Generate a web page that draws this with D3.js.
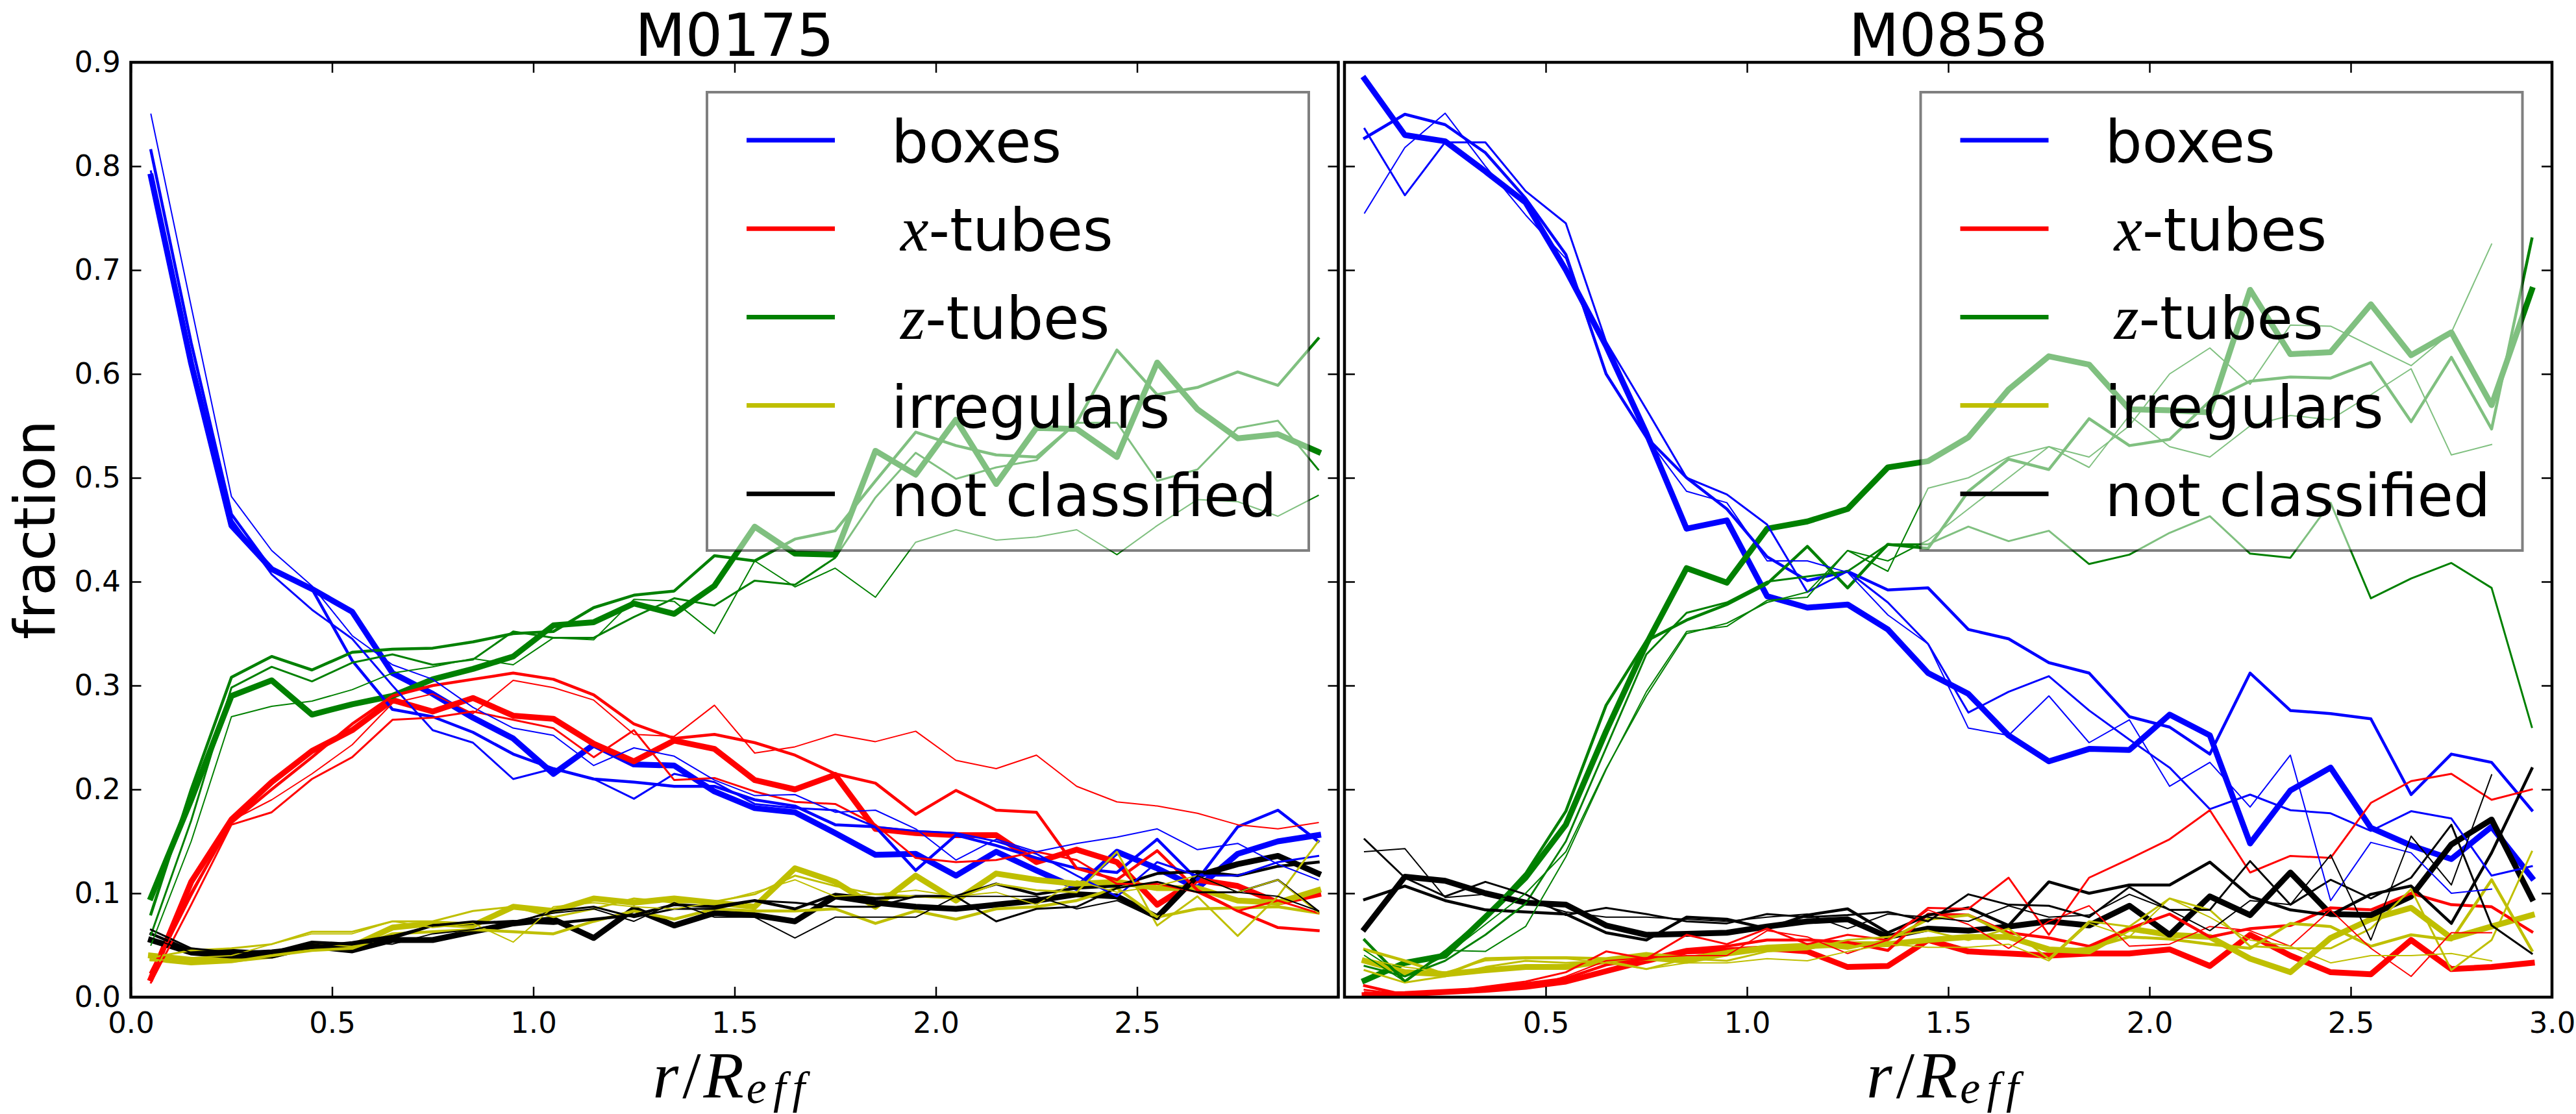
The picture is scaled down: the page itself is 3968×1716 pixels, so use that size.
<!DOCTYPE html>
<html>
<head>
<meta charset="utf-8">
<script src="https://cdn.jsdelivr.net/npm/d3@7"></script>
<style>
  html, body { margin: 0; padding: 0; background: #fff; }
  svg { display: block; }
</style>
</head>
<body>
<div id="chart"></div>
<script>
// ---------------- data ----------------
var titles = ["M0175", "M0858"];
var classNames = ["boxes", "x-tubes", "z-tubes", "irregulars", "not classified"];
var classColors = ["#0000ff", "#ff0000", "#008000", "#bfbf00", "#000000"];

// radial bins r / R_eff
var radii = [0.05, 0.15, 0.25, 0.35, 0.45, 0.55, 0.65, 0.75, 0.85, 0.95,
             1.05, 1.15, 1.25, 1.35, 1.45, 1.55, 1.65, 1.75, 1.85, 1.95,
             2.05, 2.15, 2.25, 2.35, 2.45, 2.55, 2.65, 2.75, 2.85, 2.95];

var xTickValues = [0.0, 0.5, 1.0, 1.5, 2.0, 2.5, 3.0];
var xTickLabelsM0175 = ["0.0", "0.5", "1.0", "1.5", "2.0", "2.5", ""];
var xTickLabelsM0858 = ["", "0.5", "1.0", "1.5", "2.0", "2.5", "3.0"];
var yTickValues = [0.0, 0.1, 0.2, 0.3, 0.4, 0.5, 0.6, 0.7, 0.8, 0.9];
var yTickLabels = ["0.0", "0.1", "0.2", "0.3", "0.4", "0.5", "0.6", "0.7", "0.8", "0.9"];

// M0175 : each class = several runs (first one is the thick one)
var m0175Boxes = [
  [0.790,0.610,0.454,0.412,0.393,0.371,0.312,0.292,0.269,0.249,0.215,0.243,0.224,0.223,0.198,0.182,0.178,0.158,0.137,0.138,0.117,0.140,0.122,0.105,0.140,0.124,0.105,0.138,0.150,0.156],
  [0.815,0.630,0.465,0.412,0.393,0.324,0.277,0.270,0.255,0.234,0.220,0.210,0.207,0.203,0.203,0.190,0.184,0.166,0.164,0.122,0.156,0.146,0.134,0.124,0.120,0.152,0.113,0.164,0.180,0.150],
  [0.795,0.610,0.460,0.407,0.373,0.345,0.300,0.257,0.245,0.210,0.220,0.210,0.191,0.215,0.207,0.186,0.182,0.180,0.164,0.160,0.158,0.150,0.138,0.117,0.097,0.130,0.117,0.117,0.130,0.136],
  [0.850,0.665,0.482,0.430,0.396,0.348,0.320,0.306,0.279,0.259,0.252,0.223,0.240,0.232,0.209,0.194,0.195,0.178,0.180,0.162,0.132,0.152,0.140,0.148,0.154,0.162,0.142,0.148,0.128,0.113]
];
var m0175XTubes = [
  [0.018,0.111,0.171,0.207,0.237,0.257,0.286,0.275,0.288,0.271,0.268,0.244,0.227,0.247,0.239,0.209,0.200,0.214,0.162,0.158,0.156,0.156,0.130,0.142,0.130,0.089,0.113,0.107,0.091,0.099],
  [0.024,0.100,0.168,0.200,0.231,0.263,0.290,0.300,0.306,0.312,0.306,0.291,0.263,0.249,0.253,0.245,0.233,0.215,0.206,0.176,0.199,0.180,0.178,0.124,0.113,0.141,0.103,0.083,0.067,0.064],
  [0.014,0.089,0.166,0.178,0.210,0.231,0.267,0.269,0.275,0.267,0.259,0.231,0.257,0.209,0.211,0.198,0.188,0.186,0.166,0.134,0.130,0.132,0.140,0.132,0.109,0.109,0.101,0.083,0.093,0.081],
  [0.020,0.097,0.170,0.190,0.215,0.243,0.283,0.292,0.273,0.305,0.298,0.286,0.253,0.251,0.281,0.235,0.241,0.253,0.246,0.256,0.228,0.220,0.233,0.203,0.188,0.184,0.177,0.166,0.162,0.168]
];
var m0175ZTubes = [
  [0.096,0.190,0.290,0.305,0.272,0.282,0.290,0.306,0.316,0.328,0.358,0.361,0.379,0.369,0.396,0.453,0.427,0.426,0.526,0.503,0.556,0.494,0.548,0.547,0.520,0.611,0.566,0.538,0.542,0.525],
  [0.080,0.200,0.308,0.328,0.315,0.332,0.335,0.336,0.342,0.350,0.352,0.375,0.387,0.391,0.425,0.420,0.441,0.449,0.497,0.544,0.531,0.522,0.520,0.553,0.623,0.580,0.587,0.602,0.589,0.634],
  [0.060,0.170,0.298,0.318,0.304,0.322,0.330,0.320,0.325,0.352,0.346,0.346,0.366,0.384,0.377,0.401,0.397,0.423,0.481,0.524,0.499,0.510,0.517,0.553,0.553,0.497,0.508,0.548,0.555,0.508],
  [0.050,0.150,0.270,0.280,0.285,0.296,0.312,0.318,0.326,0.320,0.346,0.344,0.383,0.381,0.350,0.420,0.395,0.413,0.385,0.438,0.450,0.440,0.443,0.450,0.426,0.454,0.479,0.477,0.463,0.483]
];
var m0175Irregulars = [
  [0.040,0.036,0.036,0.040,0.049,0.049,0.067,0.071,0.069,0.087,0.083,0.095,0.091,0.095,0.091,0.087,0.124,0.111,0.087,0.117,0.093,0.119,0.113,0.109,0.111,0.105,0.105,0.093,0.091,0.103],
  [0.036,0.032,0.034,0.040,0.045,0.047,0.061,0.063,0.065,0.063,0.061,0.073,0.083,0.075,0.085,0.083,0.083,0.085,0.071,0.083,0.075,0.085,0.087,0.093,0.105,0.077,0.085,0.086,0.087,0.081],
  [0.038,0.045,0.047,0.051,0.063,0.063,0.073,0.073,0.083,0.087,0.077,0.085,0.095,0.091,0.092,0.099,0.117,0.107,0.099,0.097,0.095,0.109,0.103,0.101,0.140,0.069,0.097,0.059,0.097,0.150],
  [0.035,0.038,0.040,0.051,0.061,0.061,0.073,0.067,0.071,0.053,0.087,0.091,0.087,0.085,0.091,0.101,0.113,0.097,0.099,0.103,0.097,0.101,0.089,0.112,0.101,0.107,0.117,0.101,0.113,0.081]
];
var m0175NotClassified = [
  [0.055,0.043,0.040,0.040,0.049,0.045,0.055,0.055,0.063,0.071,0.075,0.057,0.085,0.069,0.081,0.079,0.073,0.097,0.091,0.087,0.085,0.089,0.093,0.099,0.097,0.077,0.117,0.128,0.136,0.119],
  [0.061,0.045,0.045,0.043,0.053,0.051,0.057,0.069,0.071,0.073,0.071,0.075,0.079,0.089,0.087,0.093,0.085,0.099,0.095,0.097,0.097,0.109,0.099,0.105,0.107,0.119,0.121,0.117,0.126,0.130],
  [0.065,0.047,0.043,0.045,0.049,0.053,0.059,0.069,0.073,0.071,0.083,0.087,0.077,0.085,0.085,0.093,0.091,0.087,0.087,0.097,0.097,0.073,0.085,0.087,0.105,0.111,0.101,0.101,0.113,0.083],
  [0.057,0.043,0.043,0.043,0.047,0.053,0.051,0.061,0.065,0.073,0.081,0.085,0.073,0.091,0.077,0.077,0.057,0.077,0.077,0.077,0.097,0.097,0.097,0.085,0.093,0.075,0.117,0.101,0.097,0.083]
];

// M0858 (last run stops at r = 2.85)
var m0858Boxes = [
  [0.884,0.830,0.824,0.795,0.765,0.700,0.627,0.543,0.451,0.459,0.386,0.375,0.378,0.354,0.312,0.292,0.252,0.227,0.239,0.238,0.272,0.252,0.148,0.199,0.221,0.163,0.146,0.133,0.164,0.115],
  [0.827,0.850,0.840,0.813,0.769,0.715,0.600,0.539,0.500,0.470,0.424,0.401,0.410,0.392,0.394,0.354,0.345,0.322,0.312,0.270,0.260,0.234,0.312,0.276,0.273,0.268,0.195,0.234,0.226,0.180],
  [0.836,0.772,0.823,0.823,0.776,0.745,0.631,0.566,0.500,0.484,0.455,0.390,0.410,0.380,0.340,0.274,0.294,0.309,0.276,0.248,0.221,0.181,0.195,0.180,0.177,0.160,0.179,0.172,0.117,0.126],
  [0.755,0.818,0.851,0.800,0.753,0.711,0.600,0.539,0.487,0.476,0.420,0.420,0.409,0.368,0.340,0.259,0.252,0.290,0.245,0.267,0.203,0.226,0.183,0.233,0.093,0.149,0.139,0.100,0.104,null]
];
var m0858XTubes = [
  [0.002,0.003,0.005,0.007,0.010,0.015,0.025,0.035,0.044,0.045,0.047,0.044,0.029,0.030,0.055,0.044,0.042,0.040,0.042,0.042,0.046,0.030,0.060,0.040,0.024,0.022,0.055,0.027,0.029,0.033],
  [0.011,0.002,0.004,0.009,0.013,0.018,0.031,0.037,0.046,0.049,0.055,0.055,0.053,0.045,0.080,0.079,0.062,0.057,0.049,0.066,0.080,0.058,0.066,0.069,0.086,0.084,0.100,0.089,0.087,0.063],
  [0.007,0.002,0.005,0.010,0.015,0.024,0.044,0.037,0.060,0.051,0.066,0.051,0.060,0.055,0.086,0.085,0.115,0.060,0.115,0.133,0.152,0.180,0.120,0.136,0.134,0.187,0.208,0.215,0.190,0.200],
  [0.005,0.002,0.004,0.008,0.009,0.020,0.035,0.038,0.040,0.040,0.064,0.058,0.042,0.055,0.084,0.070,0.047,0.073,0.088,0.049,0.051,0.068,0.064,0.049,0.084,0.047,0.020,0.062,0.062,null]
];
var m0858ZTubes = [
  [0.016,0.033,0.040,0.077,0.115,0.166,0.256,0.340,0.413,0.399,0.451,0.458,0.470,0.510,0.516,0.539,0.585,0.617,0.609,0.566,0.565,0.563,0.681,0.619,0.621,0.667,0.618,0.640,0.570,0.681],
  [0.055,0.015,0.044,0.077,0.119,0.179,0.281,0.343,0.363,0.378,0.398,0.434,0.394,0.436,0.432,0.487,0.518,0.508,0.557,0.531,0.537,0.574,0.593,0.597,0.596,0.611,0.554,0.616,0.547,0.730],
  [0.030,0.020,0.035,0.060,0.090,0.150,0.240,0.330,0.370,0.380,0.400,0.405,0.410,0.436,0.436,0.453,0.439,0.449,0.417,0.426,0.447,0.463,0.427,0.423,0.476,0.384,0.403,0.418,0.394,0.260],
  [0.045,0.020,0.040,0.070,0.100,0.140,0.220,0.290,0.350,0.360,0.380,0.390,0.430,0.410,0.490,0.500,0.520,0.530,0.520,0.550,0.600,0.625,0.590,0.647,0.646,0.627,0.608,0.640,0.725,null],
  [0.040,0.015,0.045,0.044,0.068,0.135,0.219,0.294,0.352,0.357,0.382,0.385,0.430,0.420,0.440,0.470,0.500,0.530,0.510,0.560,0.530,0.520,0.550,0.560,0.556,0.580,0.605,0.522,0.532,null]
];
var m0858Irregulars = [
  [0.035,0.024,0.022,0.026,0.029,0.029,0.035,0.038,0.035,0.042,0.047,0.049,0.051,0.051,0.055,0.058,0.058,0.046,0.044,0.066,0.060,0.058,0.037,0.024,0.057,0.075,0.086,0.057,0.068,0.079],
  [0.046,0.035,0.022,0.037,0.038,0.038,0.037,0.042,0.038,0.044,0.049,0.051,0.047,0.055,0.075,0.079,0.060,0.044,0.047,0.058,0.056,0.051,0.047,0.071,0.068,0.049,0.060,0.055,0.113,0.045],
  [0.026,0.014,0.020,0.029,0.035,0.033,0.035,0.027,0.037,0.035,0.044,0.046,0.055,0.058,0.064,0.055,0.066,0.037,0.073,0.068,0.095,0.084,0.049,0.047,0.047,0.066,0.104,0.026,0.055,0.140],
  [0.037,0.029,0.024,0.035,0.037,0.037,0.033,0.027,0.033,0.033,0.037,0.035,0.044,0.051,0.048,0.048,0.051,0.035,0.071,0.058,0.095,0.077,0.055,0.049,0.033,0.040,0.040,0.042,0.035,null]
];
var m0858NotClassified = [
  [0.066,0.116,0.112,0.100,0.091,0.089,0.069,0.060,0.061,0.062,0.068,0.073,0.075,0.058,0.066,0.064,0.068,0.073,0.069,0.088,0.060,0.097,0.079,0.120,0.080,0.079,0.097,0.147,0.171,0.095],
  [0.094,0.107,0.093,0.084,0.082,0.080,0.062,0.055,0.077,0.075,0.066,0.079,0.085,0.062,0.079,0.086,0.069,0.111,0.100,0.108,0.108,0.130,0.097,0.084,0.079,0.099,0.107,0.071,0.139,0.220],
  [0.152,0.115,0.097,0.111,0.099,0.079,0.086,0.080,0.073,0.071,0.080,0.077,0.079,0.082,0.073,0.099,0.089,0.088,0.077,0.106,0.084,0.084,0.131,0.089,0.113,0.095,0.115,0.166,0.069,0.042],
  [0.140,0.143,0.096,0.099,0.093,0.082,0.077,0.077,0.075,0.073,0.077,0.080,0.066,0.080,0.077,0.073,0.088,0.077,0.079,0.099,0.084,0.064,0.093,0.089,0.137,0.055,0.155,0.108,0.214,null]
];

// ---------------- layout ----------------
var W = 3968, H = 1716;
var plotTop = 96, plotBottom = 1536;
var runWidths = [9, 4.5, 3, 2, 2]; // thick run first, then thinner ones

var panels = [
  {title: titles[0], left: 201.5, right: 2061.5, xLabels: xTickLabelsM0175, yLabels: true,
   series: [m0175Boxes, m0175XTubes, m0175ZTubes, m0175Irregulars, m0175NotClassified]},
  {title: titles[1], left: 2071, right: 3931, xLabels: xTickLabelsM0858, yLabels: false,
   series: [m0858Boxes, m0858XTubes, m0858ZTubes, m0858Irregulars, m0858NotClassified]}
];

var svg = d3.select("#chart").append("svg")
  .attr("width", W)
  .attr("height", H)
  .style("font-family", "'DejaVu Sans', sans-serif");

svg.append("rect").attr("width", W).attr("height", H).attr("fill", "#fff");

panels.forEach(function(p, pi) {
  var x = d3.scaleLinear().domain([0, 3]).range([p.left, p.right]);
  var y = d3.scaleLinear().domain([0, 0.9]).range([plotBottom, plotTop]);
  var g = svg.append("g");

  // lines - run-major order like the original plotting loop
  var line = d3.line()
    .defined(function(d) { return d[1] != null; })
    .x(function(d) { return x(d[0]); })
    .y(function(d) { return y(d[1]); });

  var maxRuns = d3.max(p.series, function(s) { return s.length; });
  for (var r = 0; r < maxRuns; r++) {
    p.series.forEach(function(cls, ci) {
      if (!cls[r]) return;
      var pts = radii.map(function(rv, i) { return [rv, cls[r][i]]; });
      g.append("path")
        .attr("d", line(pts))
        .attr("fill", "none")
        .attr("stroke", classColors[ci])
        .attr("stroke-width", runWidths[r])
        .attr("stroke-linejoin", "round")
        .attr("stroke-linecap", "square");
    });
  }

  // legend (semi transparent frame like matplotlib)
  var lgW = 927, lgH = 706;
  var lgX = p.right - 45.5 - lgW, lgY = 142;
  var lg = g.append("g");
  lg.append("rect")
    .attr("x", lgX).attr("y", lgY).attr("width", lgW).attr("height", lgH)
    .attr("fill", "#fff").attr("fill-opacity", 0.5)
    .attr("stroke", "#000").attr("stroke-opacity", 0.5).attr("stroke-width", 4);
  classNames.forEach(function(name, ci) {
    var ly = 216 + ci * 136.2;
    lg.append("line")
      .attr("x1", lgX + 61).attr("x2", lgX + 197)
      .attr("y1", ly).attr("y2", ly)
      .attr("stroke", classColors[ci]).attr("stroke-width", 7);
    var t = lg.append("text")
      .attr("x", lgX + 284).attr("y", ly + 34)
      .attr("font-size", 90).attr("fill", "#000");
    if (name.indexOf("-tubes") > 0) {
      t.append("tspan")
        .attr("dx", 14)
        .attr("font-family", "'Liberation Serif', serif")
        .attr("font-style", "italic")
        .attr("font-size", 98)
        .text(name.charAt(0));
      t.append("tspan").text(name.slice(1));
    } else {
      t.text(name);
    }
  });

  // axes: ticks on all four sides, pointing inward
  function styleAxis(sel) {
    sel.select(".domain").remove();
    sel.selectAll(".tick line").attr("stroke", "#000").attr("stroke-width", 2.5);
    sel.selectAll(".tick text").attr("font-size", 45).attr("fill", "#000")
      .attr("font-family", "'DejaVu Sans', sans-serif");
  }
  g.append("g")
    .attr("transform", "translate(0," + plotBottom + ")")
    .call(d3.axisBottom(x).tickValues(xTickValues).tickSizeInner(-16).tickSizeOuter(0).tickPadding(23)
      .tickFormat(function(d, i) { return p.xLabels[i]; }))
    .call(styleAxis);
  g.append("g")
    .attr("transform", "translate(0," + plotTop + ")")
    .call(d3.axisTop(x).tickValues(xTickValues).tickSizeInner(-16).tickSizeOuter(0).tickFormat(""))
    .call(styleAxis);
  g.append("g")
    .attr("transform", "translate(" + p.left + ",0)")
    .call(d3.axisLeft(y).tickValues(yTickValues).tickSizeInner(-16).tickSizeOuter(0).tickPadding(15.5)
      .tickFormat(function(d, i) { return p.yLabels ? yTickLabels[i] : ""; }))
    .call(styleAxis);
  g.append("g")
    .attr("transform", "translate(" + p.right + ",0)")
    .call(d3.axisRight(y).tickValues(yTickValues).tickSizeInner(-16).tickSizeOuter(0).tickFormat(""))
    .call(styleAxis);

  // frame
  g.append("rect")
    .attr("x", p.left).attr("y", plotTop)
    .attr("width", p.right - p.left).attr("height", plotBottom - plotTop)
    .attr("fill", "none").attr("stroke", "#000").attr("stroke-width", 4.5);

  // title
  var cx = (p.left + p.right) / 2;
  g.append("text")
    .attr("x", cx).attr("y", 86)
    .attr("text-anchor", "middle")
    .attr("font-size", 90)
    .text(p.title);

  // x label r/R_eff
  var xl = g.append("text")
    .attr("x", cx - 126).attr("y", 1691)
    .attr("font-family", "'Liberation Serif', serif")
    .attr("font-style", "italic")
    .attr("font-size", 102);
  xl.append("tspan").text("r");
  xl.append("tspan").attr("dx", 6).attr("font-style", "normal").text("/");
  xl.append("tspan").attr("dx", 4).text("R");
  xl.append("tspan").attr("dx", 4).attr("dy", 8).attr("font-size", 70)
    .attr("letter-spacing", 10).text("eff");
});

// y label
svg.append("text")
  .attr("transform", "translate(84,816) rotate(-90)")
  .attr("text-anchor", "middle")
  .attr("font-size", 88)
  .text("fraction");
</script>
</body>
</html>
